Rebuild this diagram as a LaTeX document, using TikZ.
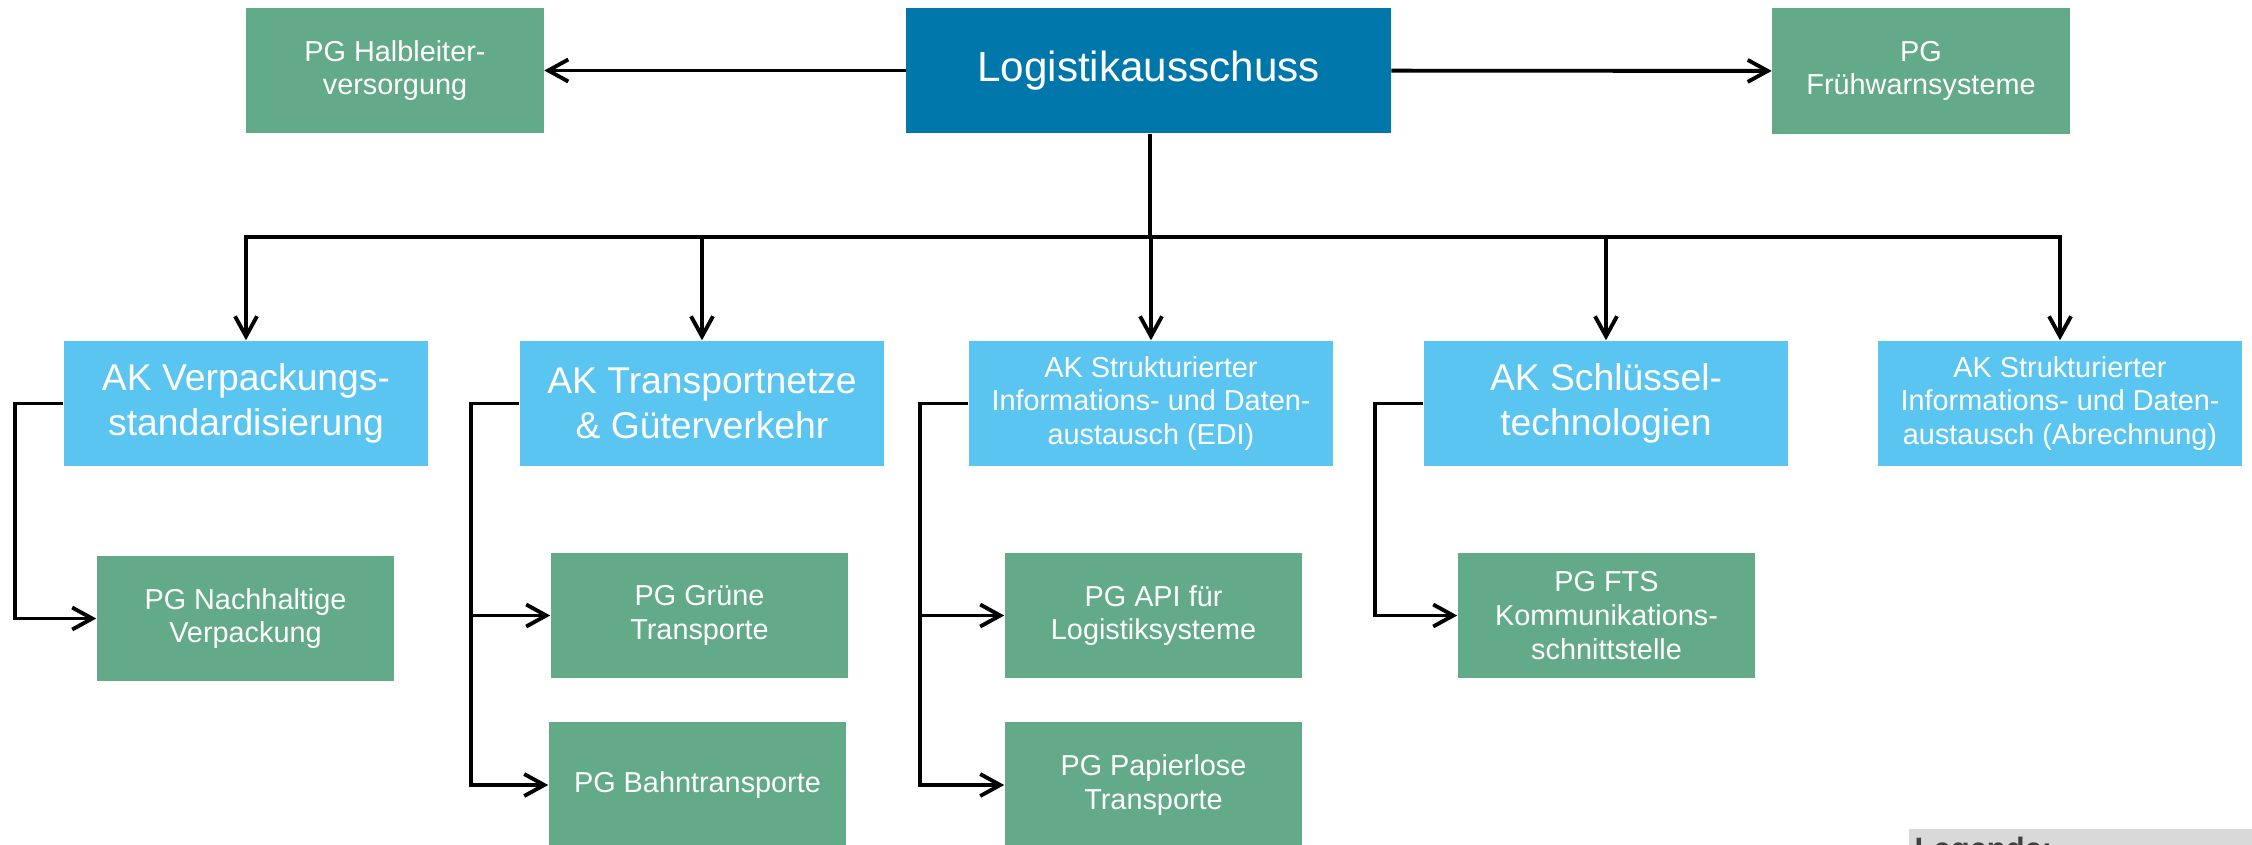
\documentclass[tikz,border=0pt]{standalone}
\usepackage{fontspec}
\setmainfont{Liberation Sans}
\usepackage{tikz}
\usetikzlibrary{arrows.meta, positioning}
\definecolor{ausschussblue}{RGB}{0,119,170}
\definecolor{akblue}{RGB}{91,197,242}
\definecolor{pggreen}{RGB}{98,170,136}
\definecolor{legendgray}{RGB}{217,217,217}
\newcommand{\bigak}{\fontsize{10.6}{12.8}\selectfont}
\newcommand{\smallbox}{\fontsize{8.2}{9.6}\selectfont}

\begin{document}
\begin{tikzpicture}[x=0.01cm, y=-0.01cm,
        >={Straight Barb[length=0.2cm, width=0.22cm, line width=1.1pt]},
        box/.style={text=white, align=center, inner sep=0pt, minimum height=1.25cm},
        mainbox/.style={box, fill=ausschussblue, minimum width=4.84cm, font=\fontsize{12}{14}\selectfont},
        akbox/.style={box, fill=akblue, minimum width=3.64cm, font=\bigak},
        aksmall/.style={box, fill=akblue, minimum width=3.64cm, font=\smallbox},
        pgbox/.style={box, fill=pggreen, minimum width=2.97cm, font=\smallbox},
        link/.style={draw=black, line width=1.1pt}]
    \useasboundingbox (0,0) rectangle (2252,844);
    \clip (0,0) rectangle (2252,844);
    \node[mainbox] (logistik) at (1148.5, 70.5) {Logistikausschuss};
    \node[pgbox] (halbleiter) at (395, 70.5) {PG Halbleiter-\\versorgung};
    \node[pgbox] (fruehwarn) at (1921, 71) {PG\\Frühwarnsysteme};
    \node[akbox] (verpackung) at (246, 403.5) {AK Verpackungs-\\standardisierung};
    \node[akbox] (transport) at (702, 403.5) {AK Transportnetze\\\& Güterverkehr};
    \node[aksmall] (edi) at (1151, 403.5) {AK Strukturierter\\Informations- und Daten-\\austausch (EDI)};
    \node[akbox] (schluessel) at (1606, 403.5) {AK Schlüssel-\\technologien};
    \node[aksmall] (abrechnung) at (2060, 403.5) {AK Strukturierter\\Informations- und Daten-\\austausch (Abrechnung)};
    \node[pgbox] (nachhaltig) at (245.5, 618.5) {PG Nachhaltige\\Verpackung};
    \node[pgbox] (gruen) at (699.5, 615.5) {PG Grüne\\Transporte};
    \node[pgbox] (bahn) at (697.5, 785) {PG Bahntransporte};
    \node[pgbox] (api) at (1153.5, 615.5) {PG API für\\Logistiksysteme};
    \node[pgbox] (papierlos) at (1153.5, 785) {PG Papierlose\\Transporte};
    \node[pgbox] (fts) at (1606.5, 615.5) {PG FTS\\Kommunikations-\\schnittstelle};
    \coordinate (bus) at (1150, 237);
    \draw[link]
    (logistik) edge[->] (halbleiter)
    (logistik) edge[->] (fruehwarn)
    (logistik.south -| bus) -- (bus);
    \draw[link, ->] (bus) -| (verpackung);
    \draw[link, ->] (bus) -| (transport);
    \draw[link, ->] (bus) -| (edi);
    \draw[link, ->] (bus) -| (schluessel);
    \draw[link, ->] (bus) -| (abrechnung);
    \draw[link, ->] (verpackung.west) -- +(-48,0) |- (nachhaltig);
    \draw[link, ->] (transport.west) -- +(-48,0) |- (gruen);
    \draw[link, ->] (transport.west) -- +(-48,0) |- (bahn);
    \draw[link, ->] (edi.west) -- +(-48,0) |- (api);
    \draw[link, ->] (edi.west) -- +(-48,0) |- (papierlos);
    \draw[link, ->] (schluessel.west) -- +(-48,0) |- (fts);
    \fill[legendgray] (1909,829) rectangle (2260,870);
    \node[anchor=base west, inner sep=0pt, text=black!75, font=\fontsize{8.8}{10}\selectfont\bfseries] (legende) at (1914,859) {Legende:};
\end{tikzpicture}
\end{document}
